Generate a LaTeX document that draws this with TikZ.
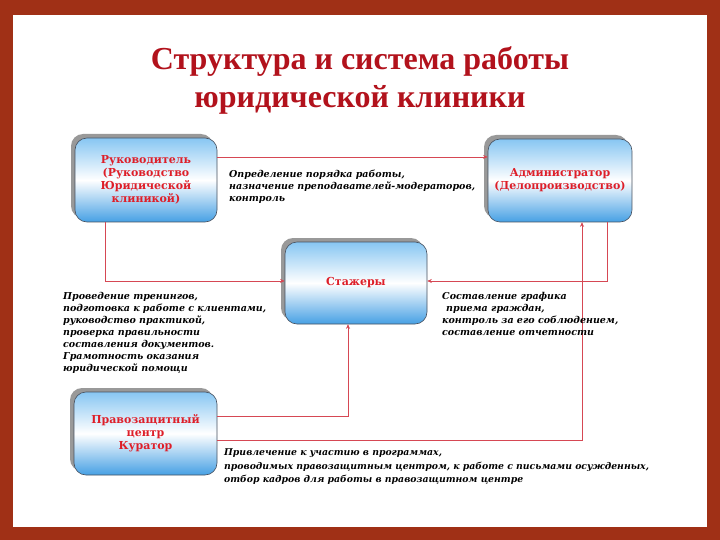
\documentclass[tikz,border=0pt]{standalone}
\usepackage{fontspec}
\setmainfont{Liberation Serif}
\newfontfamily\boxfont{DejaVu Serif}
\newfontfamily\descfont{DejaVu Serif}
\usetikzlibrary{arrows.meta,shadows,calc}
\definecolor{frame}{RGB}{160,48,22}
\definecolor{titlered}{RGB}{178,18,28}
\definecolor{boxred}{RGB}{222,30,40}
\definecolor{boxtop}{RGB}{135,198,242}
\definecolor{boxbot}{RGB}{70,160,228}
\definecolor{boxline}{RGB}{70,80,95}
\definecolor{conncol}{RGB}{214,72,84}
\tikzset{
  unitbox/.style={draw=boxline, line width=0.6pt, rounded corners=12pt,
    top color=boxtop, bottom color=boxbot, middle color=white,
    drop shadow={shadow xshift=-4pt, shadow yshift=4pt, fill=gray!80, opacity=1},
    align=center, font=\boxfont\bfseries\fontsize{11}{13}\selectfont, text=boxred,
    inner sep=0pt},
  desc/.style={anchor=north west, align=left, inner sep=0pt,
    font=\descfont\bfseries\itshape\fontsize{9.5}{12}\selectfont},
  conn/.style={draw=conncol, line width=0.7pt, -{Stealth[length=4.5pt,width=4pt]}},
}
\begin{document}
\begin{tikzpicture}[x=1pt,y=-1pt]
\useasboundingbox (0,0) rectangle (720,540);
\fill[frame] (0,0) rectangle (720,540);
\fill[white] (13,15) rectangle (707,527);
\node[font=\bfseries\fontsize{32}{38}\selectfont, text=titlered, align=center] (title) at (360,80)
  {Структура и система работы\\юридической клиники};
\node[unitbox, minimum width=142pt, minimum height=84pt] (ruk) at (146,180)
  {Руководитель\\(Руководство\\Юридической\\клиникой)};
\node[unitbox, minimum width=144pt, minimum height=83pt] (adm) at (560,180.5)
  {Администратор\\(Делопроизводство)};
\node[unitbox, minimum width=142pt, minimum height=82pt] (staj) at (356,283)
  {Стажеры};
\node[unitbox, minimum width=143pt, minimum height=83pt] (prav) at (145.5,433.5)
  {Правозащитный\\центр\\Куратор};
\coordinate (p0) at (0,157);
\coordinate (p1) at (105,281);
\coordinate (p2) at (607,281);
\coordinate (p3) at (348,416);
\coordinate (p4) at (582,440);
\draw[conn] (ruk.east |- p0) -- (adm.west |- p0);
\draw[conn] (ruk.south -| p1) |- (staj.west |- p1);
\draw[conn] (adm.south -| p2) |- (staj.east |- p2);
\draw[conn] (prav.east |- p3) -| (staj.south -| p3);
\draw[conn] (prav.east |- p4) -| (adm.south -| p4);
\node[desc] (t1) at (229,170) {Определение порядка работы,\\назначение преподавателей-модераторов,\\контроль};
\node[desc] (t2) at (63,292) {Проведение тренингов,\\подготовка к работе с клиентами,\\руководство практикой,\\проверка правильности\\составления документов.\\Грамотность оказания\\юридической помощи};
\node[desc] (t3) at (442,292) {Составление графика\\\hspace*{4pt}приема граждан,\\контроль за его соблюдением,\\составление отчетности};
\node[desc, font=\descfont\bfseries\itshape\fontsize{9.3}{13.5}\selectfont] (t4) at (224,449) {Привлечение к участию в программах,\\проводимых правозащитным центром, к работе с письмами осужденных,\\отбор кадров для работы в правозащитном центре};
\end{tikzpicture}
\end{document}
